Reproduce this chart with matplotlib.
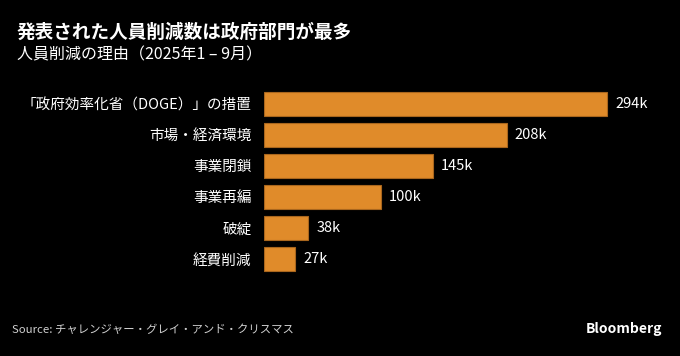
import matplotlib
matplotlib.use("Agg")
import matplotlib.pyplot as plt

categories = ["「政府効率化省（DOGE）」の措置", "市場・経済環境", "事業閉鎖", "事業再編", "破綻", "経費削減"]
values = [294, 208, 145, 100, 38, 27]
value_labels = ["294k", "208k", "145k", "100k", "38k", "27k"]

title = "発表された人員削減数は政府部門が最多"
subtitle = "人員削減の理由（2025年1 – 9月）"
source = "Source: チャレンジャー・グレイ・アンド・クリスマス"

plt.rcParams['font.family'] = ['Noto Sans CJK JP', 'DejaVu Sans']

fig = plt.figure(figsize=(6.8, 3.56), dpi=100, facecolor='black')
W, H = 680, 356
left_px, right_px = 264, 264 + 1.166 * 330
top_px, bot_px = 103.7 - 15.53, 259 + 15.53
ax = fig.add_axes([left_px / W, 1 - bot_px / H, (right_px - left_px) / W, (bot_px - top_px) / H])
ax.set_facecolor('black')

y = list(range(len(categories)))
ax.barh(y, values, height=0.78, color='#E08B2A', edgecolor='#A9661D', linewidth=0.8)
ax.set_xlim(0, 330)
ax.set_ylim(len(categories) - 0.5, -0.5)
for i, (v, lab) in enumerate(zip(values, value_labels)):
    ax.text(v + 7, i, lab, color='white', fontsize=10.5, va='center', ha='left')

ax.set_yticks(y)
ax.set_yticklabels(categories, color='white', fontsize=10.5)
ax.tick_params(axis='y', length=0, pad=9)
ax.set_xticks([])
for s in ax.spines.values():
    s.set_visible(False)

fig.text(17 / W, 1 - 32 / H, title, color='white', fontsize=13.4, fontweight='bold', va='center', ha='left')
fig.text(17 / W, 1 - 55 / H, subtitle, color='white', fontsize=11.5, va='center', ha='left')
fig.text(12 / W, 1 - 330 / H, source, color='#d0d0d0', fontsize=8.2, va='center', ha='left')
fig.text(662 / W, 1 - 329 / H, "Bloomberg", color='white', fontsize=10, fontweight='bold', va='center', ha='right')

fig.savefig('out.png', dpi=100, facecolor='black')
